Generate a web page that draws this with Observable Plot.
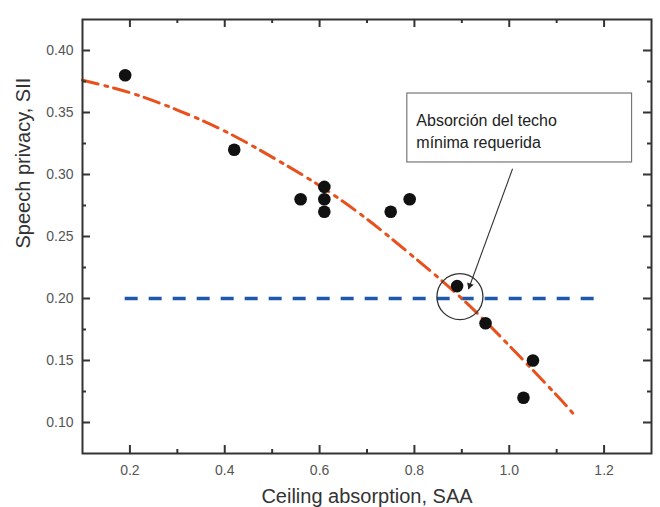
<!DOCTYPE html>
<html>
<head>
<meta charset="utf-8">
<script src="https://cdn.jsdelivr.net/npm/d3@7"></script>
<script src="https://cdn.jsdelivr.net/npm/@observablehq/plot@0.6"></script>
<style>
  html, body { margin: 0; padding: 0; background: #fff; }
  #chart { width: 660px; height: 507px; }
</style>
</head>
<body>
<div id="chart"></div>
<script>
// Measured points (ceiling absorption SAA, speech privacy SII)
const saa = [0.19, 0.42, 0.56, 0.61, 0.61, 0.61, 0.75, 0.79, 0.89, 0.95, 1.05, 1.03];
const sii = [0.38, 0.32, 0.28, 0.29, 0.28, 0.27, 0.27, 0.28, 0.21, 0.18, 0.15, 0.12];

// Fitted trend curve
const fitX = [0.10, 0.20, 0.30, 0.40, 0.50, 0.60, 0.70, 0.80, 0.90, 1.00, 1.10, 1.135];
const fitY = [0.376, 0.366, 0.352, 0.335, 0.314, 0.291, 0.264, 0.233, 0.200, 0.162, 0.122, 0.107];

// Required SII threshold line
const thresholdY = 0.20;
const thresholdX = [0.19, 1.20];

// Tick values
const xMajor = [0.2, 0.4, 0.6, 0.8, 1.0, 1.2];
const xMinor = [0.3, 0.5, 0.7, 0.9, 1.1];
const yMajor = [0.10, 0.15, 0.20, 0.25, 0.30, 0.35, 0.40];
const yMinor = [0.125, 0.175, 0.225, 0.275, 0.325, 0.375];

// Annotation (data coordinates)
const noteText = ["Absorción del techo", "mínima requerida"];
const noteBox = {x1: 0.785, x2: 1.259, y1: 0.3097, y2: 0.3653};
const noteAnchor = {x: 0.804, y: 0.3363};
const arrowFrom = {x: 1.007, y: 0.3046};
const arrowTo = {x: 0.914, y: 0.2075};
const ringCenter = {x: 0.896, y: 0.2015};

const xLabel = "Ceiling absorption, SAA";
const yLabel = "Speech privacy, SII";

const points = saa.map((x, i) => ({x, y: sii[i]}));
const fit = fitX.map((x, i) => ({x, y: fitY[i]}));

const W = 660, H = 507;
const mL = 82, mR = 9, mT = 19, mB = 54;
const innerW = W - mL - mR, innerH = H - mT - mB;
const axisColor = "#333";
const majorLen = 8, minorLen = 4;

const chart = Plot.plot({
  width: W,
  height: H,
  marginLeft: mL, marginRight: mR, marginTop: mT, marginBottom: mB,
  style: {fontFamily: "'Liberation Sans', Arial, sans-serif", background: "#fff"},
  x: {domain: [0.1, 1.3], axis: null},
  y: {domain: [0.075, 0.425], axis: null},
  marks: [
    // threshold line
    Plot.ruleY([thresholdY], {x1: thresholdX[0], x2: thresholdX[1], stroke: "#1f58a8", strokeWidth: 3.5, strokeDasharray: "13,11"}),
    // fitted curve
    Plot.line(fit, {x: "x", y: "y", curve: "natural", stroke: "#e8501c", strokeWidth: 3, strokeDasharray: "16,7,3,6"}),
    // data points
    Plot.dot(points, {x: "x", y: "y", r: 6.3, fill: "#111", stroke: "none"}),
    // ring around intersection
    Plot.dot([ringCenter], {x: "x", y: "y", r: 23, fill: "none", stroke: "#333", strokeWidth: 1.3}),
    // arrow shaft + filled head
    Plot.link([{x1: arrowFrom.x, y1: arrowFrom.y, x2: arrowTo.x, y2: arrowTo.y}], {x1: "x1", y1: "y1", x2: "x2", y2: "y2", stroke: "#333", strokeWidth: 1.1}),
    Plot.dot([arrowTo], {x: "x", y: "y", symbol: "triangle", r: 2.6, rotate: 200, dx: 1.3, dy: -3.7, fill: "#222", stroke: "none"}),
    // annotation box
    Plot.rect([noteBox], {x1: "x1", x2: "x2", y1: "y1", y2: "y2", fill: "#fff", stroke: "#777", strokeWidth: 1.2}),
    Plot.text([noteText.join("\n")], {x: noteAnchor.x, y: noteAnchor.y, text: d => d, textAnchor: "start", lineAnchor: "middle", lineHeight: 1.375, fontSize: 16, fill: "#222"}),
    // frame
    Plot.frame({stroke: axisColor, strokeWidth: 2}),
    // inward ticks: bottom & top
    Plot.ruleX(xMajor, {x: d => d, insetTop: innerH - majorLen, stroke: axisColor, strokeWidth: 2}),
    Plot.ruleX(xMinor, {x: d => d, insetTop: innerH - minorLen, stroke: axisColor, strokeWidth: 2}),
    Plot.ruleX(xMajor, {x: d => d, insetBottom: innerH - majorLen, stroke: axisColor, strokeWidth: 2}),
    Plot.ruleX(xMinor, {x: d => d, insetBottom: innerH - minorLen, stroke: axisColor, strokeWidth: 2}),
    // inward ticks: left & right
    Plot.ruleY(yMajor, {y: d => d, insetRight: innerW - majorLen, stroke: axisColor, strokeWidth: 2}),
    Plot.ruleY(yMinor, {y: d => d, insetRight: innerW - minorLen, stroke: axisColor, strokeWidth: 2}),
    Plot.ruleY(yMajor, {y: d => d, insetLeft: innerW - majorLen, stroke: axisColor, strokeWidth: 2}),
    Plot.ruleY(yMinor, {y: d => d, insetLeft: innerW - minorLen, stroke: axisColor, strokeWidth: 2}),
    // tick labels
    Plot.axisX({ticks: xMajor, tickSize: 0, tickPadding: 12, tickFormat: d3.format(".1f"), fontSize: 14, fill: "#555", label: null}),
    Plot.axisY({ticks: yMajor, tickSize: 0, tickPadding: 9, tickFormat: d3.format(".2f"), fontSize: 14, fill: "#555", label: null}),
    // axis titles
    Plot.text([xLabel], {frameAnchor: "bottom", text: d => d, dy: 43, lineAnchor: "middle", fontSize: 20, fill: "#333"}),
    Plot.text([yLabel], {frameAnchor: "left", text: d => d, dx: -59, dy: 12, rotate: -90, lineAnchor: "middle", fontSize: 20, fill: "#333"})
  ]
});
document.getElementById("chart").appendChild(chart);
</script>
</body>
</html>
